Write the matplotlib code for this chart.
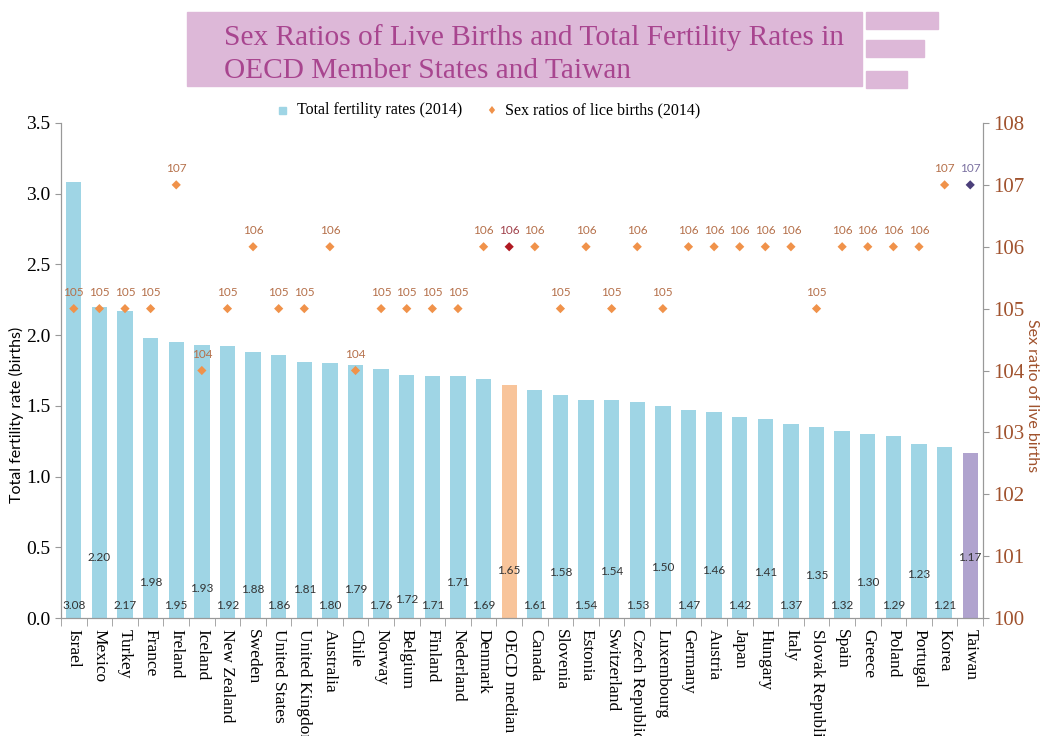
import matplotlib.pyplot as plt
from matplotlib.patches import Rectangle

countries = ["Israel", "Mexico", "Turkey", "France", "Ireland", "Iceland",
             "New Zealand", "Sweden", "United States", "United Kingdom",
             "Australia", "Chile", "Norway", "Belgium", "Finland", "Nederland",
             "Denmark", "OECD median", "Canada", "Slovenia", "Estonia",
             "Switzerland", "Czech Republic", "Luxembourg", "Germany", "Austria",
             "Japan", "Hungary", "Italy", "Slovak Republic", "Spain", "Greece",
             "Poland", "Portugal", "Korea", "Taiwan"]
fertility = [3.08, 2.20, 2.17, 1.98, 1.95, 1.93, 1.92, 1.88, 1.86, 1.81,
             1.80, 1.79, 1.76, 1.72, 1.71, 1.71, 1.69, 1.65, 1.61, 1.58,
             1.54, 1.54, 1.53, 1.50, 1.47, 1.46, 1.42, 1.41, 1.37, 1.35,
             1.32, 1.30, 1.29, 1.23, 1.21, 1.17]
sex_ratio = [105, 105, 105, 105, 107, 104, 105, 106, 105, 105,
             106, 104, 105, 105, 105, 105, 106, 106, 106, 105,
             106, 105, 106, 105, 106, 106, 106, 106, 106, 105,
             106, 106, 106, 106, 107, 107]

# where the fertility value labels sit (left-axis units), as in the original
label_y = [0.05, 0.39, 0.05, 0.21, 0.05, 0.17, 0.05, 0.16, 0.05, 0.16,
           0.05, 0.16, 0.05, 0.09, 0.05, 0.21, 0.05, 0.30, 0.05, 0.28,
           0.05, 0.29, 0.05, 0.32, 0.05, 0.30, 0.05, 0.28, 0.05, 0.26,
           0.05, 0.21, 0.05, 0.27, 0.05, 0.39]

BLUE = "#9fd5e5"
ORANGE_BAR = "#f8c49a"
PURPLE_BAR = "#b0a3ce"
DIAMOND = "#f0924a"
BROWN = "#a0522d"
SANS = ["Lato", "DejaVu Sans"]
SERIF = ["Liberation Serif", "DejaVu Serif"]


def main():
    fig = plt.figure(figsize=(10.44, 7.36), dpi=100)
    ax = fig.add_axes([0.0584, 0.1603, 0.8832, 0.6726])
    ax2 = ax.twinx()

    x = list(range(len(countries)))
    bar_colors = [BLUE] * len(countries)
    bar_colors[countries.index("OECD median")] = ORANGE_BAR
    bar_colors[countries.index("Taiwan")] = PURPLE_BAR
    ax.bar(x, fertility, width=0.6, color=bar_colors, zorder=2)

    for i, v in enumerate(fertility):
        ax.text(i, label_y[i], f"{v:.2f}", ha="center", va="bottom",
                fontsize=8.5, color="#333333", family=SANS, zorder=3)

    dia_colors = [DIAMOND] * len(countries)
    lab_colors = ["#b5704a"] * len(countries)
    dia_colors[countries.index("OECD median")] = "#b01a22"
    lab_colors[countries.index("OECD median")] = "#a0404a"
    dia_colors[countries.index("Taiwan")] = "#4b3f7a"
    lab_colors[countries.index("Taiwan")] = "#7a70a0"
    ax2.scatter(x, sex_ratio, marker="D", s=22, c=dia_colors, zorder=4,
                linewidths=0)
    for i, v in enumerate(sex_ratio):
        ax2.text(i, v + 0.17, str(v), ha="center", va="bottom", fontsize=8.5,
                 color=lab_colors[i], family=SANS)

    ax.set_xlim(-0.5, len(countries) - 0.5)
    ax.set_ylim(0, 3.5)
    ax2.set_ylim(100, 108)
    ax.set_yticks([0, 0.5, 1.0, 1.5, 2.0, 2.5, 3.0, 3.5])
    ax.set_yticklabels([f"{t:.1f}" for t in ax.get_yticks()],
                       family=SERIF, fontsize=14)
    ax2.set_yticks(range(100, 109))
    ax2.set_yticklabels([str(t) for t in range(100, 109)], family=SERIF,
                        fontsize=15, color=BROWN)

    ax.set_xticks(x)
    ax.set_xticklabels(countries, rotation=-90, family=SERIF, fontsize=12.5,
                       va="top", ha="center")
    ax.set_xticks([i + 0.5 for i in range(-1, len(countries))], minor=True)
    ax.tick_params(axis="x", which="major", length=0, pad=8)
    ax.tick_params(axis="x", which="minor", length=6, color="#999999")
    ax.tick_params(axis="y", length=4, color="#999999")
    ax2.tick_params(axis="y", length=4, color="#999999")

    for a in (ax, ax2):
        a.spines["top"].set_visible(False)
        for s in ("left", "right", "bottom"):
            a.spines[s].set_color("#999999")

    ax.set_ylabel("Total fertility rate (births)", family=SANS, fontsize=11.5)
    ax.yaxis.set_label_coords(-0.04, 0.41)
    ax2.set_ylabel("Sex ratio of live births", family=SANS, fontsize=11.5,
                   color=BROWN, rotation=270, va="center")
    ax2.yaxis.set_label_coords(1.053, 0.45)

    # title banner
    pink = "#ddb8d8"
    fig.patches.append(Rectangle((187 / 1044, 1 - 86 / 736), 675 / 1044,
                                 74 / 736, transform=fig.transFigure,
                                 color=pink, zorder=0))
    for x0, w, y0 in [(866, 72, 29), (866, 58, 57), (866, 41, 88)]:
        fig.patches.append(Rectangle((x0 / 1044, 1 - y0 / 736), w / 1044,
                                     17 / 736, transform=fig.transFigure,
                                     color=pink, zorder=0))
    fig.text(224 / 1044, 1 - 38 / 736,
             "Sex Ratios of Live Births and Total Fertility Rates in",
             family=SERIF, fontsize=21.2, color="#a8458f", va="center")
    fig.text(224 / 1044, 1 - 71 / 736, "OECD Member States and Taiwan",
             family=SERIF, fontsize=21.2, color="#a8458f", va="center")

    # legend
    fig.patches.append(Rectangle((279 / 1044, 1 - 114 / 736), 7 / 1044,
                                 7 / 736, transform=fig.transFigure,
                                 color=BLUE))
    fig.text(297 / 1044, 1 - 110 / 736, "Total fertility rates (2014)",
             family=SERIF, fontsize=11.5, va="center")
    fig.text(491 / 1044, 1 - 111 / 736, "\u2666", color=DIAMOND,
             fontsize=8, va="center", ha="center")
    fig.text(505 / 1044, 1 - 110 / 736, "Sex ratios of lice births (2014)",
             family=SERIF, fontsize=11.5, va="center")

    fig.savefig("out.png", dpi=100)


if __name__ == "__main__":
    main()
